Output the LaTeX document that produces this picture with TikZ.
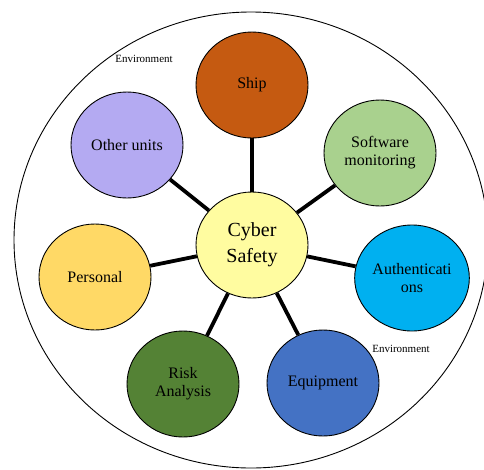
\documentclass[tikz,border=0pt]{standalone}
\usepackage{fontspec}
\setmainfont{Liberation Serif}
\usetikzlibrary{positioning,shapes.geometric}
\definecolor{hubyellow}{RGB}{255,252,160}
\definecolor{shipcol}{RGB}{197,90,17}
\definecolor{softcol}{RGB}{169,209,142}
\definecolor{authcol}{RGB}{0,176,240}
\definecolor{equipcol}{RGB}{68,114,196}
\definecolor{riskcol}{RGB}{84,130,53}
\definecolor{perscol}{RGB}{255,217,102}
\definecolor{othercol}{RGB}{180,170,242}
\tikzset{
  figcircle/.style={ellipse, draw, line width=0.9pt, minimum width=112pt, minimum height=106pt,
    inner sep=1pt, align=center, font=\fontsize{16}{18}\selectfont},
  fighub/.style={figcircle, fill=hubyellow, font=\fontsize{20}{26}\selectfont},
  figlink/.style={line width=3.8pt},
  figenv/.style={font=\fontsize{11}{12}\selectfont},
}

\begin{document}
\begin{tikzpicture}[x=1pt, y=-1pt]
  \useasboundingbox (0,0) rectangle (484,469);
  % environment boundary
  \draw[line width=0.9pt] (251,240) ellipse [x radius=237, y radius=228];
  \node[figenv] (env1) at (144,59) {Environment};
  \node[figenv] (env2) at (401,349) {Environment};
  % centre
  \node[fighub] (hub) at (252,245) {Cyber\\Safety};
  % surrounding parts
  \foreach \n/\p/\c/\t in {ship/{252,85}/shipcol/{Ship},
      soft/{380,153}/softcol/{Software\\monitoring},
      auth/{412,278}/authcol/{Authenticati\\ons},
      equip/{323,383}/equipcol/{Equipment},
      risk/{183,384}/riskcol/{Risk\\Analysis},
      pers/{95,277}/perscol/{Personal},
      other/{127,145}/othercol/{Other units}}
  {
    \node[figcircle, fill=\c] (\n) at (\p) {\t};
    \draw[figlink] (hub) -- (\n);
  }
\end{tikzpicture}
\end{document}
